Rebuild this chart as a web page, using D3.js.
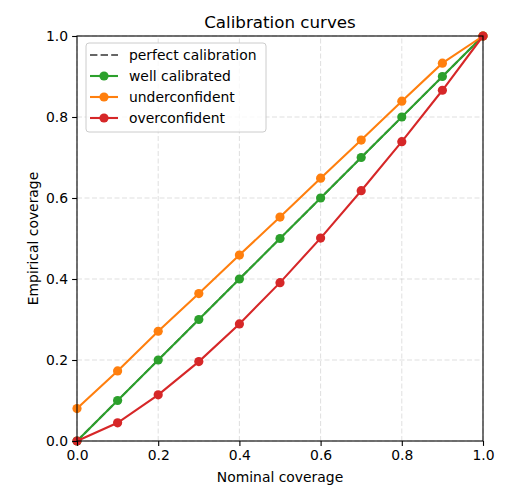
<!DOCTYPE html>
<html>
<head>
<meta charset="utf-8">
<script src="https://cdn.jsdelivr.net/npm/d3@7"></script>
<style>
  body { margin: 0; background: #fff; }
  svg { font-family: "DejaVu Sans", sans-serif; }
</style>
</head>
<body>
<div id="content"></div>
<script>
const svgWidth = 520, svgHeight = 500;

// nominal coverage levels
const nominal = [0, 0.1, 0.2, 0.3, 0.4, 0.5, 0.6, 0.7, 0.8, 0.9, 1.0];
const wellCalibrated = [0, 0.1, 0.2, 0.3, 0.4, 0.5, 0.6, 0.7, 0.8, 0.9, 1.0];
const underconfident = [0.08, 0.173, 0.271, 0.364, 0.459, 0.553, 0.649, 0.743, 0.839, 0.933, 1.0];
const overconfident = [0, 0.045, 0.114, 0.196, 0.289, 0.391, 0.501, 0.618, 0.739, 0.866, 1.0];
const tickValues = [0, 0.2, 0.4, 0.6, 0.8, 1.0];

const series = [
  {name: "well calibrated", color: "#2ca02c", values: wellCalibrated},
  {name: "underconfident", color: "#ff7f0e", values: underconfident},
  {name: "overconfident", color: "#d62728", values: overconfident}
];

const margin = {left: 77, right: 37, top: 36, bottom: 59};
const w = svgWidth - margin.left - margin.right;
const h = svgHeight - margin.top - margin.bottom;
const markerR = 4.6;

const svg = d3.select("#content").append("svg")
  .attr("width", svgWidth)
  .attr("height", svgHeight);

const x = d3.scaleLinear().domain([0, 1]).range([margin.left, margin.left + w]);
const y = d3.scaleLinear().domain([0, 1]).range([margin.top + h, margin.top]);

// grid
const grid = svg.append("g");
grid.selectAll(".gx").data(tickValues).enter().append("line")
  .attr("x1", d => x(d)).attr("x2", d => x(d))
  .attr("y1", y(0)).attr("y2", y(1))
  .attr("stroke", "#b0b0b0").attr("stroke-opacity", 0.4)
  .attr("stroke-width", 1).attr("stroke-dasharray", "5,2.5");
grid.selectAll(".gy").data(tickValues).enter().append("line")
  .attr("y1", d => y(d)).attr("y2", d => y(d))
  .attr("x1", x(0)).attr("x2", x(1))
  .attr("stroke", "#b0b0b0").attr("stroke-opacity", 0.4)
  .attr("stroke-width", 1).attr("stroke-dasharray", "5,2.5");

const plot = svg.append("g");

// perfect calibration diagonal
plot.append("line")
  .attr("x1", x(0)).attr("y1", y(0)).attr("x2", x(1)).attr("y2", y(1))
  .attr("stroke", "#000").attr("stroke-opacity", 0.6)
  .attr("stroke-width", 2).attr("stroke-dasharray", "7.4,3.2");

const line = d3.line().x(d => x(d[0])).y(d => y(d[1]));

series.forEach(s => {
  const pts = nominal.map((n, i) => [n, s.values[i]]);
  plot.append("path")
    .attr("d", line(pts))
    .attr("fill", "none")
    .attr("stroke", s.color)
    .attr("stroke-width", 2.1);
  plot.selectAll(null).data(pts).enter().append("circle")
    .attr("cx", d => x(d[0]))
    .attr("cy", d => y(d[1]))
    .attr("r", markerR)
    .attr("fill", s.color);
});

// axes
const xAxis = svg.append("g")
  .attr("transform", `translate(0,${y(0)})`)
  .call(d3.axisBottom(x).tickValues(tickValues).tickFormat(d3.format(".1f")).tickSizeOuter(0).tickSize(4.9).tickPadding(4));
const yAxis = svg.append("g")
  .attr("transform", `translate(${x(0)},0)`)
  .call(d3.axisLeft(y).tickValues(tickValues).tickFormat(d3.format(".1f")).tickSizeOuter(0).tickSize(4.9).tickPadding(4));
[xAxis, yAxis].forEach(a => {
  a.select(".domain").remove();
  a.selectAll("line").attr("stroke", "#000").attr("stroke-width", 1.1);
  a.selectAll("text").attr("font-size", 13.9).attr("fill", "#000")
    .attr("font-family", "DejaVu Sans");
});

// frame
svg.append("rect")
  .attr("x", x(0)).attr("y", y(1)).attr("width", w).attr("height", h)
  .attr("fill", "none").attr("stroke", "#000").attr("stroke-width", 1.1);

// labels
svg.append("text")
  .attr("x", x(0.5)).attr("y", 28)
  .attr("text-anchor", "middle").attr("font-size", 16.7)
  .text("Calibration curves");
svg.append("text")
  .attr("x", x(0.5)).attr("y", 482)
  .attr("text-anchor", "middle").attr("font-size", 13.9)
  .text("Nominal coverage");
svg.append("text")
  .attr("transform", `translate(38,${y(0.5)}) rotate(-90)`)
  .attr("text-anchor", "middle").attr("font-size", 13.9)
  .text("Empirical coverage");

// legend
const legendItems = [{name: "perfect calibration", color: "#000", dashed: true}]
  .concat(series.map(s => ({name: s.name, color: s.color, dashed: false})));

const legend = svg.append("g").attr("transform", "translate(86,43)");
legend.append("rect")
  .attr("width", 180).attr("height", 89).attr("rx", 3)
  .attr("fill", "#fff").attr("fill-opacity", 0.8)
  .attr("stroke", "#cccccc").attr("stroke-width", 1);

const entry = legend.selectAll(".entry").data(legendItems).enter().append("g")
  .attr("transform", (d, i) => `translate(0,${12 + i * 21})`);
entry.append("line")
  .attr("x1", 4).attr("x2", 32).attr("y1", 0).attr("y2", 0)
  .attr("stroke", d => d.color)
  .attr("stroke-opacity", d => d.dashed ? 0.6 : 1)
  .attr("stroke-width", 2.1)
  .attr("stroke-dasharray", d => d.dashed ? "7.4,3.2" : null);
entry.filter(d => !d.dashed).append("circle")
  .attr("cx", 18).attr("cy", 0).attr("r", markerR)
  .attr("fill", d => d.color);
entry.append("text")
  .attr("x", 43).attr("y", 5)
  .attr("font-size", 13.9)
  .text(d => d.name);
</script>
</body>
</html>
